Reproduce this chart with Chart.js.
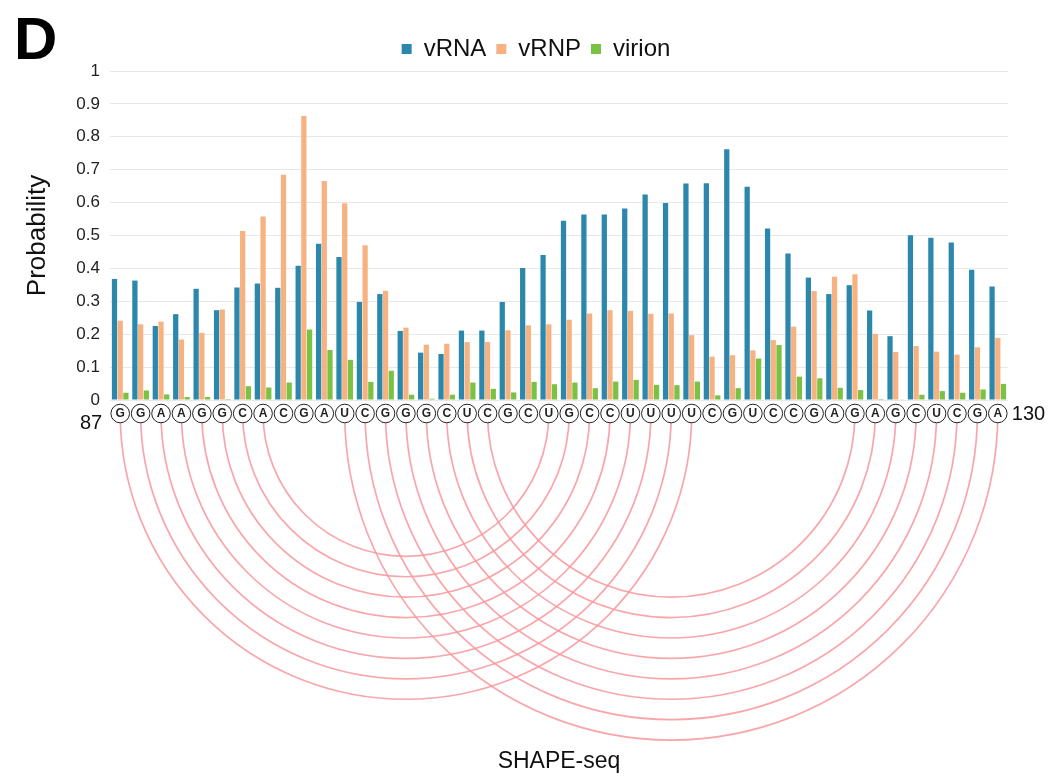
<!DOCTYPE html>
<html>
<head>
<meta charset="utf-8">
<script src="https://cdn.jsdelivr.net/npm/chart.js@4"></script>
<style>
  html, body { margin: 0; padding: 0; background: #fff; }
  #wrap { position: relative; width: 1050px; height: 779px; }
</style>
</head>
<body>
<div id="wrap"><canvas id="chart" width="1050" height="779"></canvas></div>
<script>
// positions 87..130
const positions = []
for (let p = 87; p <= 130; p++) positions.push(p)

const sequence = "GGAAGGCACGAUCGGGCUCGCUGCCUUUUCGUCCGAGAGCUCGA".split("")

const vRNA = [0.368, 0.363, 0.225, 0.261, 0.338, 0.273, 0.342, 0.354, 0.341, 0.408,
  0.475, 0.435, 0.298, 0.322, 0.210, 0.144, 0.140, 0.211, 0.211, 0.298,
  0.401, 0.441, 0.545, 0.564, 0.564, 0.582, 0.625, 0.599, 0.658, 0.659,
  0.762, 0.648, 0.521, 0.445, 0.372, 0.322, 0.349, 0.272, 0.194, 0.501,
  0.493, 0.479, 0.396, 0.345]

const vRNP = [0.241, 0.230, 0.238, 0.184, 0.204, 0.275, 0.514, 0.558, 0.685, 0.863,
  0.666, 0.598, 0.470, 0.332, 0.220, 0.168, 0.171, 0.176, 0.176, 0.212,
  0.227, 0.230, 0.244, 0.263, 0.273, 0.271, 0.262, 0.263, 0.197, 0.132,
  0.136, 0.151, 0.182, 0.223, 0.331, 0.375, 0.382, 0.201, 0.146, 0.164,
  0.147, 0.138, 0.160, 0.189]

const virion = [0.022, 0.029, 0.017, 0.009, 0.009, 0.003, 0.042, 0.038, 0.053, 0.214,
  0.152, 0.122, 0.055, 0.089, 0.016, 0.004, 0.016, 0.053, 0.034, 0.023,
  0.055, 0.048, 0.053, 0.036, 0.056, 0.061, 0.046, 0.045, 0.056, 0.014,
  0.036, 0.126, 0.167, 0.071, 0.066, 0.037, 0.030, 0.003, 0.001, 0.016,
  0.027, 0.022, 0.032, 0.049]

// base pairs (index into positions)
const basePairs = [
  [0, 28], [1, 27], [2, 26], [3, 25], [4, 24], [5, 23], [6, 22], [7, 21],
  [11, 43], [12, 42], [13, 41], [14, 40], [15, 39], [16, 38], [17, 37], [18, 36]
]

const FONT = "'Liberation Sans', Arial, sans-serif"
const ARC_COLOR = "rgba(248, 150, 156, 0.85)"

const arcPlugin = {
  id: "arcs",
  afterDraw(chart) {
    const { ctx, chartArea, scales: { x } } = chart
    const rowY = chartArea.bottom + 13.5
    const r = 9.3
    ctx.save()

    // arcs first, circles cover their tops
    ctx.strokeStyle = ARC_COLOR
    ctx.lineWidth = 1.7
    basePairs.forEach(([a, b]) => {
      const x1 = x.getPixelForValue(a)
      const x2 = x.getPixelForValue(b)
      ctx.beginPath()
      ctx.arc((x1 + x2) / 2, rowY, (x2 - x1) / 2, 0, Math.PI)
      ctx.stroke()
    })

    ctx.lineWidth = 1
    ctx.strokeStyle = "#222"
    sequence.forEach((nt, i) => {
      const cx = x.getPixelForValue(i)
      ctx.beginPath()
      ctx.arc(cx, rowY, r, 0, Math.PI * 2)
      ctx.fillStyle = "#fff"
      ctx.fill()
      ctx.stroke()
      ctx.fillStyle = "#222"
      ctx.font = "bold 12px " + FONT
      ctx.textAlign = "center"
      ctx.textBaseline = "middle"
      ctx.fillText(nt, cx, rowY + 0.5)
    })

    ctx.font = "20px " + FONT
    ctx.fillStyle = "#111"
    ctx.textAlign = "right"
    ctx.fillText(String(positions[0]), x.getPixelForValue(0) - 18, rowY + 10)
    ctx.textAlign = "left"
    ctx.fillText(String(positions[positions.length - 1]), x.getPixelForValue(positions.length - 1) + 14, rowY + 1)

    ctx.font = "bold 60px " + FONT
    ctx.fillStyle = "#000"
    ctx.textAlign = "left"
    ctx.textBaseline = "alphabetic"
    ctx.fillText("D", 14, 59)
    ctx.restore()
  }
}

new Chart(document.getElementById("chart"), {
  type: "bar",
  data: {
    labels: positions,
    datasets: [
      { label: "vRNA", data: vRNA, backgroundColor: "rgb(43, 136, 172)" },
      { label: "vRNP", data: vRNP, backgroundColor: "rgb(247, 178, 130)" },
      { label: "virion", data: virion, backgroundColor: "rgb(122, 194, 68)" }
    ]
  },
  options: {
    responsive: false,
    animation: false,
    datasets: {
      bar: { categoryPercentage: 0.84, barPercentage: 0.92 }
    },
    layout: { padding: { left: 22, right: 0, top: 27, bottom: 0 } },
    plugins: {
      legend: {
        position: "top",
        labels: {
          boxWidth: 10,
          boxHeight: 10,
          padding: 10,
          color: "#111",
          font: { family: FONT, size: 24 }
        }
      },
      tooltip: { enabled: false }
    },
    scales: {
      x: {
        offset: true,
        grid: { display: false },
        border: { display: false },
        ticks: { display: false },
        title: {
          display: true,
          text: "SHAPE-seq",
          color: "#111",
          font: { family: FONT, size: 23 },
          padding: { top: 0, bottom: 4 }
        },
        afterFit: s => { s.height = 379 }
      },
      y: {
        min: 0,
        max: 1,
        ticks: {
          stepSize: 0.1,
          padding: 10,
          color: "#222",
          font: { family: FONT, size: 17 },
          callback: v => String(Math.round(v * 10) / 10)
        },
        grid: { color: "#e8e8e8", drawTicks: false },
        border: { display: false },
        title: {
          display: true,
          text: "Probability",
          color: "#111",
          font: { family: FONT, size: 26 },
          padding: { top: 0, bottom: 0 }
        },
        afterFit: s => { s.width = 88 }
      },
      pad: {
        type: "linear",
        position: "right",
        grid: { display: false },
        border: { display: false },
        ticks: { display: false },
        afterFit: s => { s.width = 42 }
      }
    }
  },
  plugins: [arcPlugin]
})
</script>
</body>
</html>
